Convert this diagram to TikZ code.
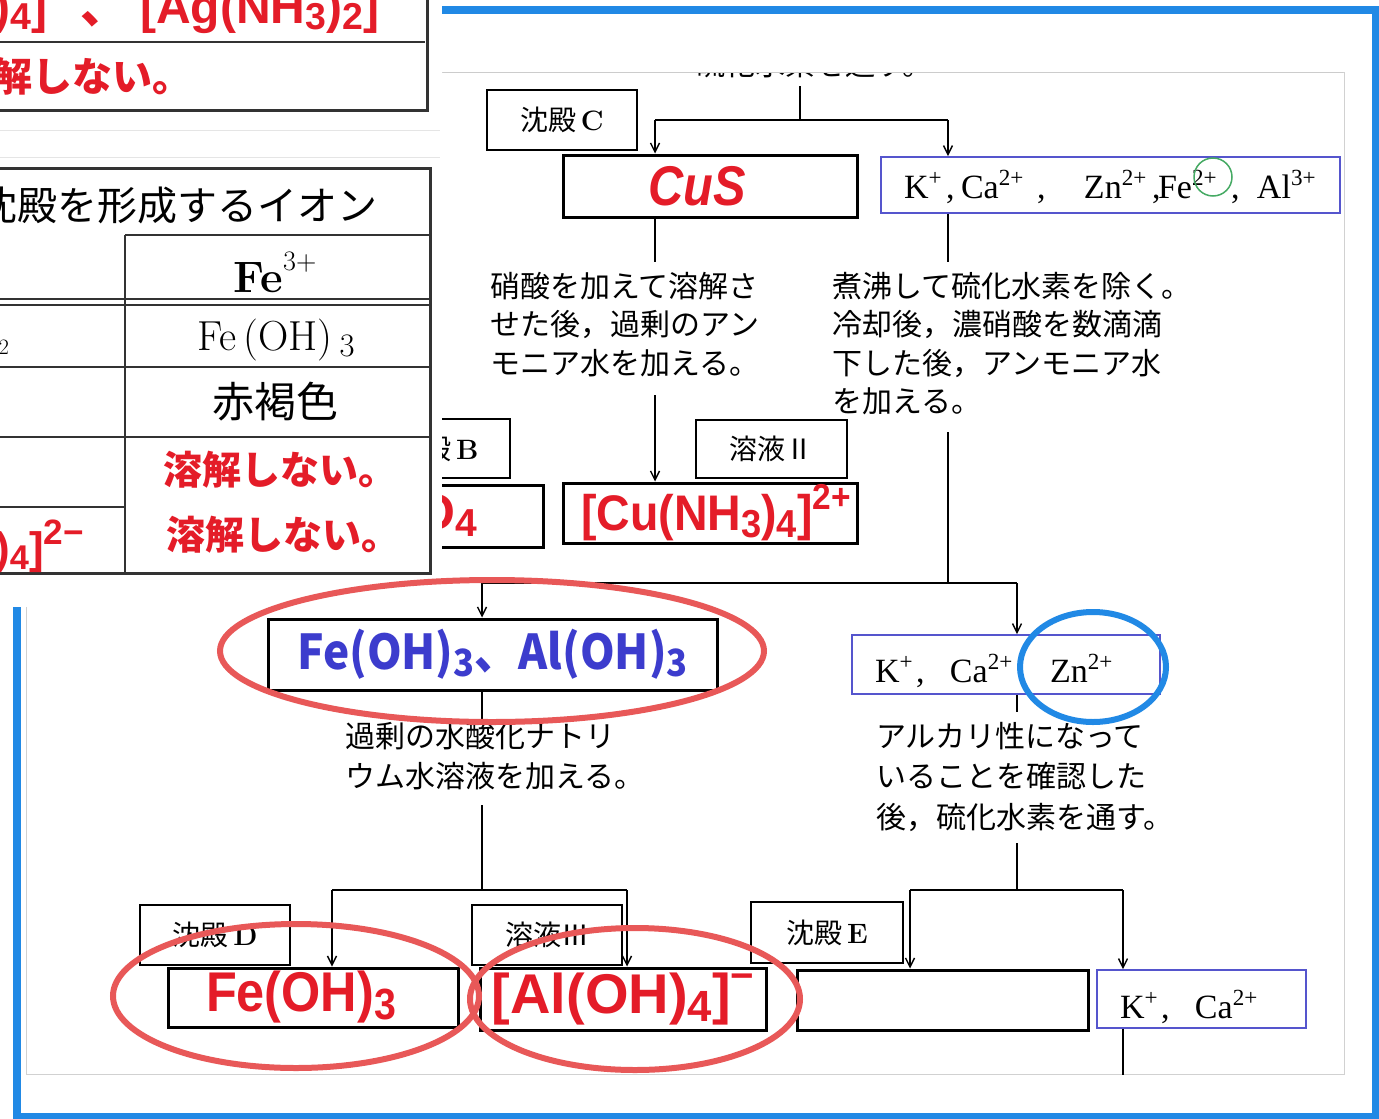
\documentclass[tikz,border=0pt]{standalone}
\usepackage{fontspec}
\usepackage{graphicx}
\usetikzlibrary{arrows.meta}
\newfontfamily\cjk{Noto Sans CJK JP}
\newfontfamily\lsans{Liberation Sans}
\newfontfamily\lserif{Liberation Serif}
\definecolor{frameblue}{RGB}{33,137,229}
\definecolor{boxblue}{RGB}{85,85,205}
\definecolor{ired}{RGB}{228,28,40}
\definecolor{iblue}{RGB}{60,60,205}
\definecolor{ellred}{RGB}{232,88,88}
\definecolor{cgreen}{RGB}{70,170,100}
\newcommand\fszz[2]{\fontsize{#1}{#2}\selectfont}
\newcommand\mysub[1]{\raisebox{-0.14em}{\scalebox{0.78}{#1}}}
\newcommand\mysup[1]{\raisebox{0.5em}{\scalebox{0.64}{#1}}}
\newcommand\ionsup[1]{\raisebox{0.36em}{\scalebox{0.68}{#1}}}
\newcommand\redsup[1]{\raisebox{0.42em}{\scalebox{0.72}{#1}}}
\newcommand\smallsup[1]{\raisebox{0.5em}{\scalebox{0.5}{#1}}}
\newcommand\bigsup[1]{\raisebox{0.42em}{\scalebox{0.8}{#1}}}
\newcommand\pat[2]{\makebox[0pt][l]{\hspace*{#1pt}#2}}
\tikzset{
  lbl/.style={draw=black, line width=1.8, inner sep=0, font={\cjk\fszz{28}{34}}},
  res/.style={draw=black, line width=3, inner sep=0},
  ionbox/.style={draw=boxblue, line width=1.8, inner sep=0, text depth=0pt, font={\lserif\fszz{34}{34}}},
  conn/.style={line width=1.4, black},
  arr/.style={conn, -{Straight Barb[length=9pt,width=9pt]}},
  instr/.style={align=left, inner sep=0, anchor=north west, font={\cjk\fszz{30}{38.5}}},
  instrb/.style={align=left, inner sep=0, anchor=north west, font={\cjk\fszz{30}{40.5}}},
  redjp/.style={inner sep=0, text=ired, font={\cjk\bfseries\fszz{39}{39}}},
  tl/.style={line width=3, black!80},
  ell/.style={draw=ellred, line width=6},
}
\begin{document}
\begin{tikzpicture}[x=1pt,y=-1pt]
\useasboundingbox (0,0) rectangle (1379,1119);
\clip (0,0) rectangle (1379,1119);
\fill[white] (0,0) rectangle (1379,1119);
\draw[black!18, line width=1] (26,72) rectangle (1344,1074);

% ---------- flowchart ----------
\node[anchor=west, inner sep=0, font={\cjk\fszz{30}{36}}] (pre) at (695,64) {硫化水素を通す。};

\node[lbl, minimum width=150, minimum height=60] (sC) at (562,120) {沈殿\,{\rmfamily\bfseries C}};
\node[res, minimum width=294, minimum height=62] (cus) at (710,186)
  {{\lsans\bfseries\itshape\fszz{56}{56}\color{ired}\scalebox{0.87}[1]{CuS}}\hspace*{26pt}};
\node[ionbox, minimum width=459, minimum height=56, text height=26pt] (ion1) at (1110.5,185)
  {\makebox[459pt][l]{\pat{23}{K\ionsup{+}}\pat{65}{,}\pat{80}{Ca\ionsup{2+}}\pat{156}{,}\pat{203}{Zn\ionsup{2+}}\pat{271}{,}\pat{277}{Fe\ionsup{2+}}\pat{350}{,}\pat{376}{Al\ionsup{3+}}}};

\node[instr] (t1) at (490,272) {硝酸を加えて溶解さ\\せた後，過剰のアン\\モニア水を加える。};
\node[instr] (t2) at (832,272) {煮沸して硫化水素を除く。\\冷却後，濃硝酸を数滴滴\\下した後，アンモニア水\\を加える。};

\node[lbl, minimum width=170, minimum height=59] (sB) at (425,448.5) {\hspace*{24pt}沈殿\,{\rmfamily\bfseries B}};
\node[res, minimum width=193, minimum height=62] (pb) at (446.5,516)
  {\makebox[193pt][r]{{\lsans\bfseries\fszz{50}{50}\color{ired}O\mysub{4}}\hspace*{66pt}}};
\node[lbl, minimum width=151, minimum height=58] (s2) at (771.5,449) {溶液Ⅱ};
\node[res, minimum width=294, minimum height=60] (cun) at (710,513)
  {\hspace*{12pt}{\lsans\bfseries\fszz{50}{50}\color{ired}\scalebox{0.93}[1]{[Cu(NH\mysub{3})\mysub{4}]\redsup{2+}}}};

\node[res, minimum width=449, minimum height=71] (feal) at (492.5,654.5)
  {{\cjk\bfseries\fszz{48}{48}\color{iblue}\scalebox{0.92}[1]{Fe(OH)\mysub{3}、Al(OH)\mysub{3}}}};
\node[ionbox, minimum width=308, minimum height=59, text height=35pt] (ion2) at (1006,664.5)
  {\makebox[308pt][l]{\pat{23}{K\ionsup{+}}\pat{64}{,}\pat{98}{Ca\ionsup{2+}}\pat{198}{Zn\ionsup{2+}}}};

\node[instrb] (t3) at (345,722) {過剰の水酸化ナトリ\\ウム水溶液を加える。};
\node[instrb] (t4) at (876,722) {アルカリ性になって\\いることを確認した\\後，硫化水素を通す。};

\node[lbl, minimum width=150, minimum height=60] (sD) at (215,935) {沈殿\,{\rmfamily\bfseries D}};
\node[lbl, minimum width=150, minimum height=60] (s3) at (547,935) {溶液Ⅲ};
\node[lbl, minimum width=152, minimum height=61] (sE) at (827,932.5) {沈殿\,{\rmfamily\bfseries E}};

\node[res, minimum width=290, minimum height=59] (fe) at (313,997.5)
  {{\lsans\bfseries\fszz{56}{56}\color{ired}\scalebox{0.9}[1]{Fe(OH)\mysub{3}}}\hspace*{24pt}};
\node[res, minimum width=286, minimum height=62] (al) at (623,999)
  {{\lsans\bfseries\fszz{56}{56}\color{ired}[Al(OH)\mysub{4}]\redsup{−}}};
\node[res, minimum width=291, minimum height=60] (emp) at (942.5,1000) {};
\node[ionbox, minimum width=209, minimum height=58, text height=38pt] (ion3) at (1201.5,999)
  {\makebox[209pt][l]{\pat{23}{K\ionsup{+}}\pat{64}{,}\pat{98}{Ca\ionsup{2+}}}};

% connectors
\coordinate (topin) at (800,86);
\coordinate (j1) at (800,120);
\coordinate (cL) at (655,120);
\coordinate (cR) at (948,120);
\draw[conn] (topin) -- (j1);
\draw[conn] (cL) -- (cR);
\draw[arr] (cL) -- (cL |- cus.north);
\draw[arr] (cR) -- (cR |- ion1.north);
\coordinate (b1) at (655,262);
\draw[conn] (cL |- cus.south) -- (b1);
\coordinate (a1) at (655,395);
\draw[arr] (a1) -- (a1 |- cun.north);
\coordinate (b2) at (948,262);
\draw[conn] (cR |- ion1.south) -- (b2);
\coordinate (a2) at (948,432);
\coordinate (j2) at (948,583);
\draw[conn] (a2) -- (j2);
\coordinate (dL) at (482,583);
\coordinate (dR) at (1017,583);
\draw[conn] (dL) -- (dR);
\draw[arr] (dL) -- (dL |- feal.north);
\draw[arr] (dR) -- (dR |- ion2.north);
\coordinate (b3) at (482,722);
\draw[conn] (dL |- feal.south) -- (b3);
\coordinate (a3) at (482,805);
\coordinate (j3) at (482,890);
\draw[conn] (a3) -- (j3);
\coordinate (eL) at (332,890);
\coordinate (eR) at (627,890);
\draw[conn] (eL) -- (eR);
\draw[arr] (eL) -- (eL |- fe.north);
\draw[arr] (eR) -- (eR |- al.north);
\coordinate (b4) at (1017,712);
\draw[conn] (dR |- ion2.south) -- (b4);
\coordinate (a4) at (1017,843);
\coordinate (j4) at (1017,890);
\draw[conn] (a4) -- (j4);
\coordinate (fL) at (910,890);
\coordinate (fR) at (1123,890);
\draw[conn] (fL) -- (fR);
\draw[arr] (fL) -- (fL |- emp.north);
\draw[arr] (fR) -- (fR |- ion3.north);
\coordinate (bot) at (1123,1075);
\draw[conn] (fR |- ion3.south) -- (bot);

% top strip
\fill[white] (443,13.5) rectangle (1343,72);
\draw[black!20, line width=1] (443,72) -- (1343,72);

% blue frame
\draw[frameblue, line width=8] (17,9.5) rectangle (1375.5,1117);

% ---------- overlay table ----------
\fill[white] (0,0) rectangle (442,607);
\draw[black!10, line width=1] (0,130) -- (440,130);
\draw[black!10, line width=1] (0,157) -- (440,157);
\draw[tl] (0,110) -- (427,110) -- (427,-5);
\draw[tl, line width=2] (0,42) -- (425,42);
\node[anchor=base east, inner sep=0, text=ired, font={\lsans\bfseries\fszz{48}{48}}] (r1a) at (75,23)
  {[Cu(NH\mysub{3})\mysub{4}]\smallsup{2+}};
\node[anchor=base west, inner sep=0, text=ired, font={\lsans\bfseries\fszz{48}{48}}] (r1b) at (80,23)
  {{\cjk 、}\hspace{12pt}[Ag(NH\mysub{3})\mysub{2}]\redsup{+}};
\node[redjp, anchor=east, font={\cjk\bfseries\fszz{40}{40}}] (r1c) at (193,76) {溶解しない。};

\draw[tl] (0,168) -- (432,168);
\draw[tl] (430,168) -- (430,573);
\draw[tl] (0,573) -- (432,573);
\draw[tl, line width=2] (125,235) -- (432,235);
\draw[tl, line width=2] (125,235) -- (125,573);
\draw[tl, line width=1.5] (0,299) -- (430,299);
\draw[tl, line width=1.5] (0,305) -- (430,305);
\draw[tl, line width=2] (0,367) -- (430,367);
\draw[tl, line width=2] (0,437) -- (430,437);
\draw[tl, line width=1.5] (0,507) -- (125,507);
\node[anchor=east, inner sep=0, font={\cjk\fszz{40}{40}}] (tt) at (378,205) {沈殿を形成するイオン};
\node[inner sep=0, font={\fszz{44}{44}}] (fe3) at (275,272) {\textbf{Fe}\mysup{3+}};
\node[inner sep=0, font={\fszz{42}{42}}] (feoh) at (276,340) {Fe\,(OH)\,\mysub{3}};
\node[inner sep=0, font={\cjk\fszz{42}{42}}] (col) at (275,402) {赤褐色};
\node[redjp] (nd1) at (280,470) {溶解しない。};
\node[redjp] (nd2) at (283,535) {溶解しない。};
\node[inner sep=0, font={\fszz{22}{22}}] (two) at (4,347) {2};
\node[anchor=base east, inner sep=0, text=ired, font={\lsans\bfseries\fszz{44}{44}}] (zn) at (84,563)
  {[Zn(OH)\mysub{4}]\bigsup{2−}};

% ---------- hand-drawn marks ----------
\draw[ell] (492,651) ellipse [x radius=272pt, y radius=71pt];
\draw[ell] (296,996) ellipse [x radius=183pt, y radius=72pt];
\draw[ell] (635,999) ellipse [x radius=165pt, y radius=71pt];
\draw[frameblue, line width=6] (1093,667) ellipse [x radius=73pt, y radius=55pt];
\draw[cgreen, line width=1.5] (1213,177) circle [radius=19pt];
\end{tikzpicture}
\end{document}
